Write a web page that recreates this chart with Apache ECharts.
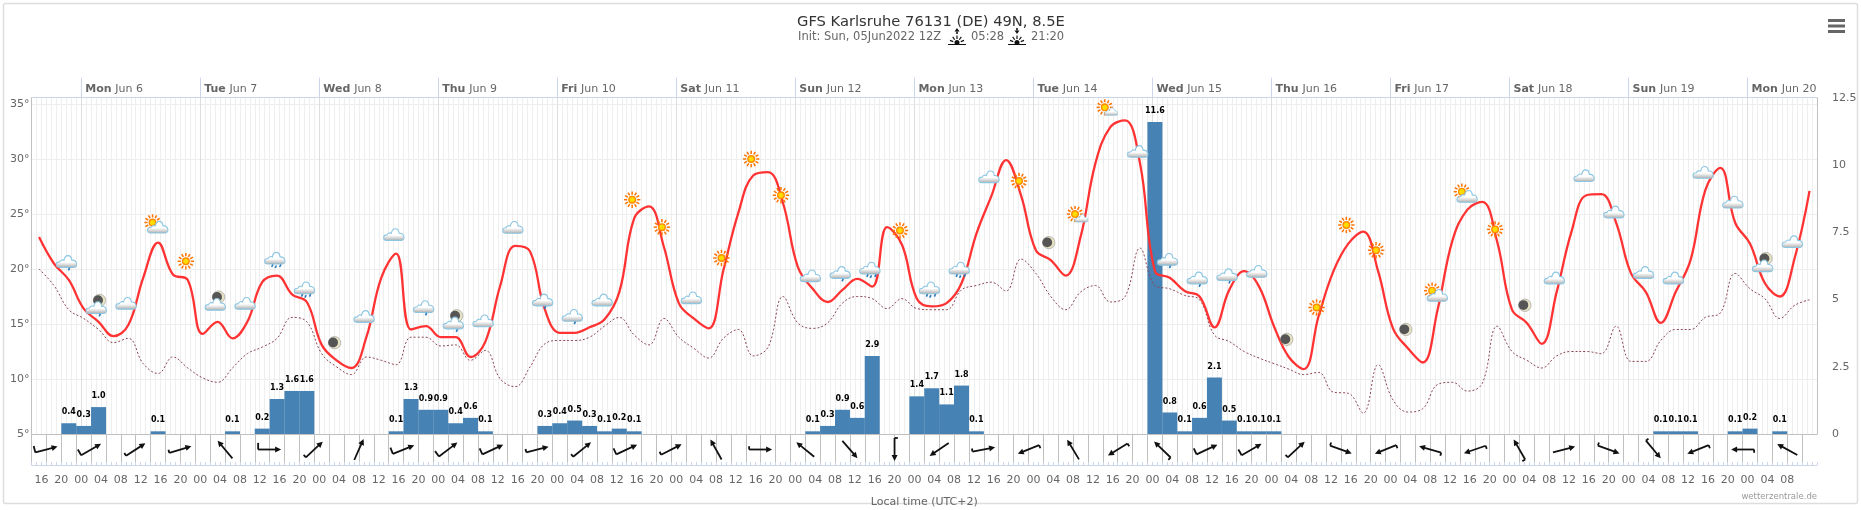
<!DOCTYPE html>
<html>
<head>
<meta charset="utf-8">
<title>GFS Karlsruhe</title>
<script src="https://cdn.jsdelivr.net/npm/echarts@6/dist/echarts.min.js"></script>
<style>
html, body { margin: 0; padding: 0; background: #fff; }
#main { width: 1861px; height: 510px; }
</style>
</head>
<body>
<div id="main"></div>
<script>
// 3-hourly values, first one is Sun Jun 5 15:30 local time
var temps = [22.9,20.5,19.0,16.4,15.2,13.9,14.9,19.2,22.4,19.5,19.0,14.1,15.2,13.7,15.2,18.8,19.4,17.7,17.0,13.1,
	11.7,11.0,13.8,19.2,21.4,14.5,14.8,13.8,13.8,12.0,13.4,18.5,22.1,21.6,16.3,14.2,14.2,14.7,15.4,17.9,
	24.6,25.7,22.0,16.9,15.5,14.6,19.9,25.1,28.5,28.8,26.0,20.2,18.2,17.0,18.1,19.1,18.4,23.8,22.2,17.3,
	16.6,16.9,18.7,23.2,26.6,29.9,26.7,21.7,20.8,19.4,22.9,29.6,32.9,33.5,29.6,19.8,19.2,18.0,17.5,14.7,
	18.1,19.8,18.4,14.8,12.0,10.9,15.7,19.8,22.3,23.4,19.8,14.6,12.8,11.5,16.3,22.6,25.4,26.1,22.5,16.3,
	15.1,13.2,17.9,23.4,26.7,26.8,24.2,19.6,17.9,15.1,17.9,20.8,27.2,29.2,24.2,22.3,18.7,17.5,21.0,27.1];
var dewPoints = [20.0,18.5,16.3,15.5,14.5,13.3,13.7,11.4,10.5,12.0,11.0,10.1,9.7,11.0,12.3,12.9,13.7,15.6,15.2,12.3,
	11.1,10.4,12.0,11.7,11.3,13.8,13.8,13.0,13.1,11.7,12.6,10.0,9.3,11.1,13.2,13.5,13.5,13.8,14.8,15.6,
	14.0,13.1,15.5,13.8,12.8,11.9,13.7,14.5,12.1,12.9,17.5,15.1,14.6,15.1,16.9,17.5,17.3,16.4,17.3,16.4,
	16.3,16.3,18.1,18.5,18.8,18.0,20.9,19.6,17.5,16.3,17.9,18.5,17.0,17.5,21.9,18.5,18.2,17.6,17.2,14.0,
	13.4,12.5,11.9,11.4,10.9,10.4,10.6,8.8,8.7,6.9,11.3,8.1,7.0,7.3,9.5,9.7,8.9,9.6,14.8,12.5,
	11.7,11.0,12.1,12.5,12.5,12.3,14.8,11.6,11.6,13.5,14.5,14.5,15.6,16.0,19.6,18.2,17.3,15.5,16.7,17.2];
var precip = [0,0,0.4,0.3,1.0,0,0,0,0.1,0,0,0,0,0.1,0,0.2,1.3,1.6,1.6,0,
	0,0,0,0,0.1,1.3,0.9,0.9,0.4,0.6,0.1,0,0,0,0.3,0.4,0.5,0.3,0.1,0.2,
	0.1,0,0,0,0,0,0,0,0,0,0,0,0.1,0.3,0.9,0.6,2.9,0,0,1.4,
	1.7,1.1,1.8,0.1,0,0,0,0,0,0,0,0,0,0,0,11.6,0.8,0.1,0.6,2.1,
	0.5,0.1,0.1,0.1,0,0,0,0,0,0,0,0,0,0,0,0,0,0,0,0,
	0,0,0,0,0,0,0,0,0,0.1,0.1,0.1,0,0,0.1,0.2,0,0.1,0,0];

// weather symbols, one for every second value starting at the third
var iconKinds = ['r1','mr','c','sc','s','mc','c','r3','r3','m','c','c','r1','mr','c','c','r1','r1','c','s',
	's','c','s','s','s','c','r1','r3','s','r3','r3','c','s','m','ssc','ssc','c','r1','r1','r1',
	'c','m','s','s','s','m','sc','sc','s','m','c','c','c','c','c','c','c','mc','c'];
var iconTemps = [20.7,16.6,16.9,24.0,20.7,16.9,16.9,21.0,18.3,13.3,15.7,23.15,16.6,15.2,15.3,23.8,17.2,15.8,17.2,26.3,
	23.8,17.4,21.0,30.0,26.7,19.4,19.7,20.1,23.5,18.3,20.1,28.4,28.0,22.4,24.9,34.6,30.7,20.9,19.2,19.5,
	19.8,13.6,16.5,24.0,21.7,14.5,17.8,26.8,23.6,16.7,19.2,28.5,25.2,19.7,19.2,28.8,26.1,20.4,22.5];

// wind: heading of the arrow in degrees, barb class 0-2, one for every 9 hours
var windDir = [75,60,57,73,320,90,47,24,68,53,65,76,51,65,63,331,90,309,139,180,
	236,79,248,329,238,314,65,60,47,110,248,286,251,330,75,110,140,248,270,299];
var windBarb = [2,2,1,1,0,2,1,0,2,2,2,1,1,2,1,0,1,0,0,1,
	0,1,1,0,1,1,2,2,1,1,1,1,1,1,0,1,1,1,1,0];

var dayNames = ['Mon','Tue','Wed','Thu','Fri','Sat','Sun','Mon','Tue','Wed','Thu','Fri','Sat','Sun','Mon'];
var dayDates = ['Jun 6','Jun 7','Jun 8','Jun 9','Jun 10','Jun 11','Jun 12','Jun 13','Jun 14','Jun 15','Jun 16','Jun 17','Jun 18','Jun 19','Jun 20'];
var tempTicks = [5,10,15,20,25,30,35];
var precipTicks = [0,2.5,5,7.5,10,12.5];

var textFont = '"DejaVu Sans", sans-serif';
var hourMin = -10, hourMax = 350; // hours from Mon Jun 6 00:00

function pointHour(i) { return -8.5 + 3 * i; }
function everyHours(from, to, step) {
	var list = [];
	for (var h = from; h <= to; h += step) list.push(h);
	return list;
}
function pad2(h) {
	h = ((h % 24) + 24) % 24;
	return (h < 10 ? '0' : '') + h;
}

var tempData = temps.map(function(v, i) { return [pointHour(i), v]; });
var dewData = dewPoints.map(function(v, i) { return [pointHour(i), v]; });
var barData = [];
precip.forEach(function(v, i) { if (v > 0) barData.push([pointHour(i), v]); });
var iconData = iconTemps.map(function(v, n) { return [pointHour(2 + 2 * n), v]; });
var windData = windDir.map(function(d, k) { return [-7 + 9 * k, 0.5]; });

// little drawing helpers for the symbols
function cloud(dx, dy, s) {
	return {
		type: 'path',
		x: dx, y: dy, scaleX: s * 1.1, scaleY: s * 1.1,
		shape: { pathData: 'M-6.5 5.5C-10.5 5.5-10.5 0.5-6.5 0.5C-5.5-1.5-3.5-1.5-2.5-1C-1.5-6.5 4-6.5 4.5-1C9.5-1.5 10.5 5.5 6.5 5.5Z' },
		style: {
			stroke: '#8cc6e2', lineWidth: 1,
			fill: new echarts.graphic.LinearGradient(0, 0, 0, 1, [
				{ offset: 0, color: '#ffffff' }, { offset: 0.55, color: '#ffffff' },
				{ offset: 0.8, color: '#d0d0d0' }, { offset: 1, color: '#a8a8a8' }
			])
		}
	};
}
function sun(dx, dy) {
	var kids = [];
	for (var a = 0; a < 12; a++) {
		var r = a * Math.PI / 6;
		kids.push({
			type: 'line',
			shape: { x1: dx + 5 * Math.cos(r), y1: dy + 5 * Math.sin(r), x2: dx + 8.2 * Math.cos(r), y2: dy + 8.2 * Math.sin(r) },
			style: { stroke: '#ff7300', lineWidth: 1.5 }
		});
	}
	kids.push({ type: 'circle', shape: { cx: dx, cy: dy, r: 3.3 }, style: { fill: '#ffdc00', stroke: '#ff8c00', lineWidth: 1.4 } });
	return kids;
}
function moon(dx, dy) {
	return [
		{ type: 'circle', shape: { cx: dx, cy: dy, r: 6.2 }, style: { fill: '#e6e2c4', stroke: '#999', lineWidth: 0.6 } },
		{ type: 'circle', shape: { cx: dx - 1.5, cy: dy - 0.2, r: 4.9 }, style: { fill: '#555' } }
	];
}
function drops(list) {
	return list.map(function(p) {
		return { type: 'line', shape: { x1: p[0] + 0.8, y1: p[1] - 1.5, x2: p[0] - 0.4, y2: p[1] + 1 }, style: { stroke: '#2a7ab8', lineWidth: 1.6 } };
	});
}

function renderIcon(params, api) {
	var pt = api.coord([api.value(0), api.value(1)]);
	var kind = iconKinds[params.dataIndex];
	var kids = [];
	if (kind == 'c') kids = [cloud(0, 0, 1)];
	else if (kind == 'r1') kids = [cloud(0, 0, 1)].concat(drops([[2, 8]]));
	else if (kind == 'r3') kids = [cloud(0, 0, 1)].concat(drops([[-3, 8], [0.5, 9], [5, 8]]));
	else if (kind == 's') kids = sun(0, 0);
	else if (kind == 'm') kids = moon(0, 0);
	else if (kind == 'sc') kids = sun(-3.5, -2.5).concat([cloud(2, 2, 1)]);
	else if (kind == 'ssc') kids = sun(-3.5, -1).concat([cloud(3, 3, 0.65)]);
	else if (kind == 'mc') kids = moon(3, -6).concat([cloud(0, 1, 1)]);
	else if (kind == 'mr') kids = moon(3, -6).concat([cloud(0, 1, 1)]).concat(drops([[3, 9]]));
	return { type: 'group', x: pt[0] - 2, y: pt[1], children: kids };
}

function renderWind(params, api) {
	var pt = api.coord([api.value(0), api.value(1)]);
	var dir = windDir[params.dataIndex] * Math.PI / 180;
	var barb = windBarb[params.dataIndex] * 3.3;
	var ux = Math.sin(dir), uy = -Math.cos(dir);   // heading on screen
	var lx = uy, ly = -ux;                          // left of the heading
	var half = 11.5;
	var tx = -ux * half, ty = -uy * half, hx = ux * half, hy = uy * half;
	var kids = [{
		type: 'line',
		shape: { x1: tx, y1: ty, x2: hx - ux * 3, y2: hy - uy * 3 },
		style: { stroke: '#111', lineWidth: 1.8 }
	}, {
		type: 'polygon',
		shape: { points: [[hx, hy], [hx - ux * 6 + lx * 3, hy - uy * 6 + ly * 3], [hx - ux * 6 - lx * 3, hy - uy * 6 - ly * 3]] },
		style: { fill: '#111' }
	}];
	if (barb > 0) {
		kids.push({
			type: 'line',
			shape: { x1: tx, y1: ty, x2: tx + lx * barb, y2: ty + ly * barb },
			style: { stroke: '#111', lineWidth: 1.8 }
		});
	}
	return { type: 'group', x: pt[0], y: pt[1], children: kids };
}

function sunriseIcon(cx, up) {
	var kids = [{ type: 'line', shape: { x1: cx - 9, y1: 44.5, x2: cx + 9, y2: 44.5 }, style: { stroke: '#111', lineWidth: 1 } },
		{ type: 'circle', shape: { cx: cx, cy: 42.5, r: 2.5 }, style: { fill: '#111' } }];
	[-70, -35, 0, 35, 70].forEach(function(a) {
		var r = a * Math.PI / 180;
		kids.push({
			type: 'line',
			shape: { x1: cx + 4 * Math.sin(r), y1: 43 - 4 * Math.cos(r), x2: cx + 7.5 * Math.sin(r), y2: 43 - 7.5 * Math.cos(r) },
			style: { stroke: '#111', lineWidth: 1.2 }
		});
	});
	var tip = up ? 28 : 34, back = up ? 31.5 : 30.5;
	kids.push({ type: 'line', shape: { x1: cx, y1: up ? 34 : 28, x2: cx, y2: back }, style: { stroke: '#111', lineWidth: 1.6 } });
	kids.push({ type: 'polygon', shape: { points: [[cx, tip], [cx - 2.5, back], [cx + 2.5, back]] }, style: { fill: '#111' } });
	return { type: 'group', children: kids };
}

var gridLeft = 31.6, gridWidth = 1785.4;

var chart = echarts.init(document.getElementById('main'));
chart.setOption({
	animation: false,
	backgroundColor: '#fff',
	textStyle: { fontFamily: textFont },
	title: [
		{ text: 'GFS Karlsruhe 76131 (DE) 49N, 8.5E', left: 792, top: 10, textStyle: { color: '#333', fontSize: 14.7, fontWeight: 'normal', fontFamily: textFont } },
		{ text: 'Init: Sun, 05Jun2022 12Z', left: 793, top: 26, textStyle: { color: '#666', fontSize: 11.5, fontWeight: 'normal', fontFamily: textFont } },
		{ text: '05:28', left: 966, top: 26, textStyle: { color: '#666', fontSize: 11.5, fontWeight: 'normal', fontFamily: textFont } },
		{ text: '21:20', left: 1026, top: 26, textStyle: { color: '#666', fontSize: 11.5, fontWeight: 'normal', fontFamily: textFont } },
		{ text: 'wetterzentrale.de', right: 39, top: 487, textStyle: { color: '#999', fontSize: 8.5, fontWeight: 'normal', fontFamily: textFont } }
	],
	graphic: [
		{ type: 'rect', z: -10, shape: { x: 3.5, y: 3.5, width: 1854, height: 500, r: 2 }, style: { fill: '#fff', stroke: '#ddd', lineWidth: 1.5 } },
		{ type: 'rect', shape: { x: 1828, y: 19, width: 17, height: 3 }, style: { fill: '#666' } },
		{ type: 'rect', shape: { x: 1828, y: 24.5, width: 17, height: 3 }, style: { fill: '#666' } },
		{ type: 'rect', shape: { x: 1828, y: 30, width: 17, height: 3 }, style: { fill: '#666' } },
		sunriseIcon(957, true),
		sunriseIcon(1017, false)
	],
	grid: [
		{ left: gridLeft, top: 97.7, width: gridWidth, height: 336.3 },
		{ left: gridLeft, top: 434, width: gridWidth, height: 31 }
	],
	xAxis: [
		// hour lines and the line on top
		{ gridIndex: 0, type: 'value', position: 'top', min: hourMin, max: hourMax, interval: 1,
			axisLine: { onZero: false, lineStyle: { color: '#ccd6eb' } }, axisTick: { show: false }, axisLabel: { show: false },
			splitLine: { show: true, lineStyle: { color: '#eeeeee', width: 1 } } },
		// day lines and day labels
		{ gridIndex: 0, type: 'value', position: 'top', min: hourMin, max: hourMax,
			axisLine: { show: true, onZero: false, lineStyle: { color: '#ccd6eb' } },
			axisTick: { show: true, length: 20, lineStyle: { color: '#ccd6eb', width: 1 }, customValues: everyHours(0, 336, 24) },
			axisLabel: { show: true, customValues: everyHours(0, 336, 24), align: 'left', margin: 3, padding: [0, 0, 0, 4], color: '#666',
				formatter: function(v) { return '{b|' + dayNames[v / 24] + '} {n|' + dayDates[v / 24] + '}'; },
				rich: { b: { fontWeight: 'bold', fontSize: 11, color: '#666', fontFamily: textFont }, n: { fontSize: 11, color: '#666', fontFamily: textFont } } },
			splitLine: { show: true, lineStyle: { color: '#dedede', width: 1 } } },
		// line under the main plot
		{ gridIndex: 0, type: 'value', position: 'bottom', min: hourMin, max: hourMax,
			axisLine: { onZero: false, lineStyle: { color: '#c0c0c0' } }, axisTick: { show: false }, axisLabel: { show: false }, splitLine: { show: false } },
		// wind row, a line every 3 hours
		{ gridIndex: 1, type: 'value', position: 'bottom', min: hourMin, max: hourMax,
			axisLine: { show: false }, axisTick: { show: false, customValues: everyHours(-10, 347, 3) }, axisLabel: { show: false },
			splitLine: { show: true, lineStyle: { color: '#c0c0c0', width: 1 } } },
		// small hour ticks
		{ gridIndex: 1, type: 'value', position: 'bottom', min: hourMin, max: hourMax, interval: 1,
			axisLine: { onZero: false, lineStyle: { color: '#ccd6eb' } }, axisTick: { show: true, inside: true, length: 3, lineStyle: { color: '#ccd6eb' } },
			axisLabel: { show: false }, splitLine: { show: false } },
		// hour labels
		{ gridIndex: 1, type: 'value', position: 'bottom', min: hourMin, max: hourMax,
			axisLine: { show: false }, axisTick: { show: false },
			axisLabel: { show: true, customValues: everyHours(-8, 344, 4), color: '#666', fontSize: 11, margin: 10, formatter: function(v) { return pad2(v); } },
			splitLine: { show: false },
			name: 'Local time (UTC+2)', nameLocation: 'middle', nameGap: 32, nameTextStyle: { color: '#666', fontSize: 11 } }
	],
	yAxis: [
		{ gridIndex: 0, type: 'value', position: 'left', min: 5, max: 35.57,
			axisLine: { show: true, onZero: false, lineStyle: { color: '#c0c0c0' } }, axisTick: { show: false, customValues: tempTicks },
			axisLabel: { customValues: tempTicks, color: '#666', fontSize: 11, margin: 2, formatter: function(v) { return v + '°'; } },
			splitLine: { show: true, lineStyle: { color: '#eeeeee', width: 1 } } },
		{ gridIndex: 0, type: 'value', position: 'right', min: 0, max: 12.5,
			axisLine: { show: true, onZero: false, lineStyle: { color: '#c0c0c0' } }, axisTick: { show: false, customValues: precipTicks },
			axisLabel: { customValues: precipTicks, color: '#666', fontSize: 11, margin: 15 },
			splitLine: { show: false } },
		{ gridIndex: 1, type: 'value', min: 0, max: 1, show: false }
	],
	series: [
		{ name: 'Precipitation', type: 'bar', xAxisIndex: 0, yAxisIndex: 1, data: barData, barWidth: 15, itemStyle: { color: '#4682b4' }, z: 2,
			label: { show: true, position: 'top', distance: 7, color: '#000', fontSize: 8, fontWeight: 'bold', fontFamily: textFont,
				formatter: function(p) { return p.value[1].toFixed(1); } } },
		{ name: 'Temperature', type: 'line', xAxisIndex: 0, yAxisIndex: 0, data: tempData, smooth: 0.4, showSymbol: false, lineStyle: { color: '#ff3333', width: 2.3 }, z: 4 },
		{ name: 'Dew point', type: 'line', xAxisIndex: 0, yAxisIndex: 0, data: dewData, smooth: 0.4, showSymbol: false, lineStyle: { color: '#8c4652', width: 1, type: [2, 2] }, z: 3 },
		{ name: 'Weather', type: 'custom', xAxisIndex: 0, yAxisIndex: 0, data: iconData, renderItem: renderIcon, clip: false, silent: true, z: 5 },
		{ name: 'Wind', type: 'custom', xAxisIndex: 3, yAxisIndex: 2, data: windData, renderItem: renderWind, clip: false, silent: true, z: 5 }
	]
});
</script>
</body>
</html>
